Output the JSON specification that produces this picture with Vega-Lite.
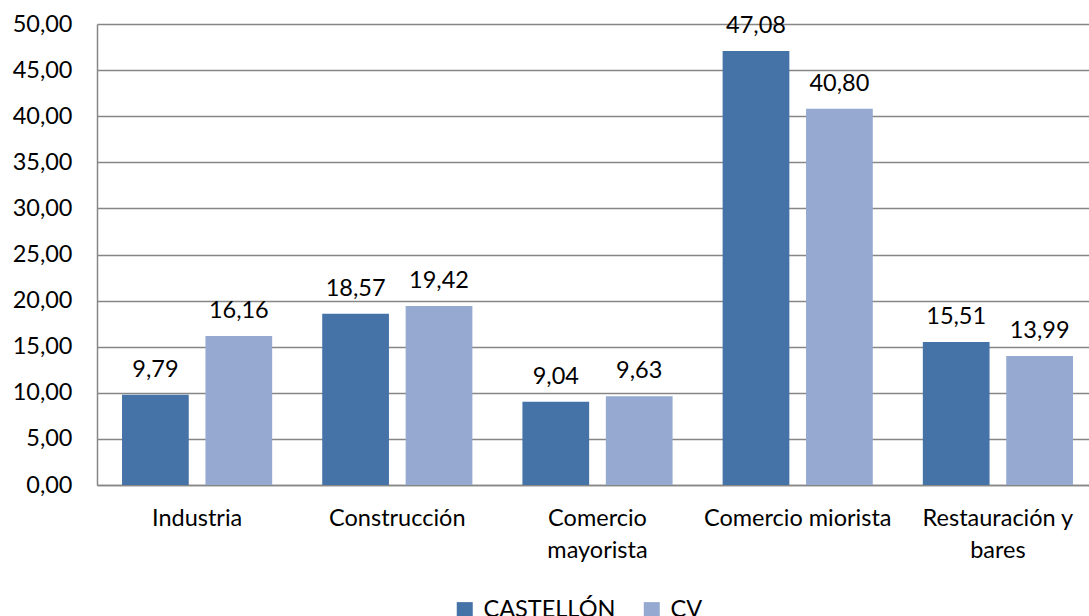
{
  "$schema": "https://vega.github.io/schema/vega-lite/v6.json",
  "width": 992,
  "height": 461,
  "autosize": {"type": "none"},
  "padding": {"left": 97, "top": 24, "right": 0, "bottom": 131},
  "config": {
    "locale": {"number": {"decimal": ",", "thousands": ".", "grouping": [3], "currency": ["", " €"]}},
    "view": {"stroke": null},
    "font": "Lato",
    "text": {"color": "#000000"}
  },
  "data": {
    "values": [
      {"categoria": "Industria", "serie": "CASTELLÓN", "valor": 9.79},
      {"categoria": "Industria", "serie": "CV", "valor": 16.16},
      {"categoria": "Construcción", "serie": "CASTELLÓN", "valor": 18.57},
      {"categoria": "Construcción", "serie": "CV", "valor": 19.42},
      {"categoria": "Comercio|mayorista", "serie": "CASTELLÓN", "valor": 9.04},
      {"categoria": "Comercio|mayorista", "serie": "CV", "valor": 9.63},
      {"categoria": "Comercio miorista", "serie": "CASTELLÓN", "valor": 47.08},
      {"categoria": "Comercio miorista", "serie": "CV", "valor": 40.80},
      {"categoria": "Restauración y|bares", "serie": "CASTELLÓN", "valor": 15.51},
      {"categoria": "Restauración y|bares", "serie": "CV", "valor": 13.99}
    ]
  },
  "encoding": {
    "x": {
      "field": "categoria",
      "type": "nominal",
      "sort": null,
      "scale": {"range": [0, 1001], "paddingInner": 0.25, "paddingOuter": 0.125},
      "axis": {
        "title": null,
        "labelAngle": 0,
        "ticks": false,
        "labelPadding": 21,
        "labelFontSize": 23.5,
        "labelLineHeight": 32,
        "labelLimit": 0,
        "labelColor": "#000000",
        "labelFont": "Lato",
        "domainColor": "#868686",
        "domainWidth": 1.5,
        "labelExpr": "split(datum.value, '|')"
      }
    },
    "xOffset": {
      "field": "serie",
      "type": "nominal",
      "sort": ["CASTELLÓN", "CV"],
      "scale": {"paddingInner": 0.2, "paddingOuter": 0}
    },
    "y": {
      "field": "valor",
      "type": "quantitative",
      "scale": {"domain": [0, 50], "nice": false},
      "axis": {
        "title": null,
        "values": [0, 5, 10, 15, 20, 25, 30, 35, 40, 45, 50],
        "format": ".2f",
        "ticks": false,
        "labelPadding": 25,
        "labelFontSize": 23.5,
        "labelColor": "#000000",
        "labelFont": "Lato",
        "domainColor": "#868686",
        "domainWidth": 1.5,
        "gridColor": "#868686",
        "gridWidth": 1.5
      }
    }
  },
  "layer": [
    {
      "mark": {"type": "bar"},
      "encoding": {
        "color": {
          "field": "serie",
          "type": "nominal",
          "sort": ["CASTELLÓN", "CV"],
          "scale": {"domain": ["CASTELLÓN", "CV"], "range": ["#4572A7", "#95A9D1"]},
          "legend": {
            "orient": "none",
            "legendX": 356,
            "legendY": 574,
            "direction": "horizontal",
            "title": null,
            "symbolType": "square",
            "symbolSize": 256,
            "symbolStrokeWidth": 0,
            "labelFontSize": 23.5,
            "labelFont": "Lato",
            "labelColor": "#000000",
            "labelOffset": 7,
            "labelLimit": 0,
            "columnPadding": 24
          }
        }
      }
    },
    {
      "mark": {"type": "text", "baseline": "alphabetic", "dy": -18, "fontSize": 23.5, "font": "Lato"},
      "encoding": {
        "text": {"field": "valor", "type": "quantitative", "format": ".2f"}
      }
    }
  ]
}
